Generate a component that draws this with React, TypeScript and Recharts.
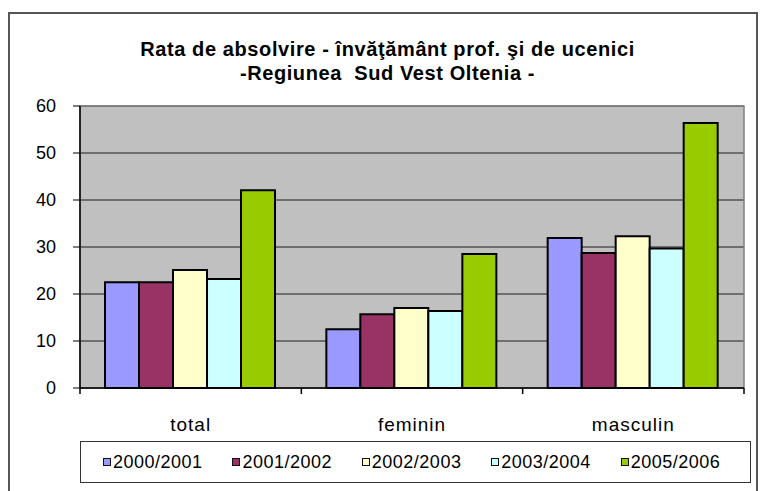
import React from 'react';
import { BarChart, Bar, XAxis, YAxis, CartesianGrid, Legend, ReferenceArea } from 'recharts';

const categories = ['total', 'feminin', 'masculin'];
const years = ['2000/2001', '2001/2002', '2002/2003', '2003/2004', '2005/2006'];
const colors = ['#9999FF', '#993366', '#FFFFCC', '#CCFFFF', '#99CC00'];

const v2000 = [22.5, 12.5, 31.9];
const v2001 = [22.5, 15.7, 28.7];
const v2002 = [25.1, 17.0, 32.3];
const v2003 = [23.2, 16.4, 29.7];
const v2005 = [42.1, 28.5, 56.4];

const yTicks = [0, 10, 20, 30, 40, 50, 60];

const seriesValues = [v2000, v2001, v2002, v2003, v2005];

const data = categories.map((name, i) => {
  const row: { [key: string]: string | number } = { name };
  years.forEach((y, s) => {
    row[y] = seriesValues[s][i];
  });
  return row;
});

const font = 'Arial, "Liberation Sans", sans-serif';
const X_TICK_SIZE = 6;
const X_TICK_MARGIN = 24;

// category label plus the Excel-style tick marks on the band boundaries
function CategoryTick(props: any) {
  const { x, y, payload, index } = props;
  const half = payload && payload.offset ? payload.offset : 110.5;
  const axisY = y - X_TICK_SIZE - X_TICK_MARGIN;
  const last = index === categories.length - 1;
  return (
    <g>
      <line x1={x - half} y1={axisY} x2={x - half} y2={axisY + X_TICK_SIZE} stroke="#000" strokeWidth={1.5} />
      {last && (
        <line x1={x + half} y1={axisY} x2={x + half} y2={axisY + X_TICK_SIZE} stroke="#000" strokeWidth={1.5} />
      )}
      <text
        x={x}
        y={y}
        dy="0.71em"
        textAnchor="middle"
        fill="#000"
        fontSize={19}
        fontFamily={font}
        letterSpacing={1}
      >
        {payload.value}
      </text>
    </g>
  );
}

function LegendBox() {
  return (
    <div
      style={{
        boxSizing: 'border-box',
        width: 671,
        height: 42,
        border: '1.5px solid #333',
        background: '#fff',
        display: 'flex',
        alignItems: 'center',
        paddingLeft: 22,
        fontFamily: font,
        fontSize: 18,
        letterSpacing: 0.5,
        color: '#000',
      }}
    >
      {years.map((y, i) => (
        <div key={y} style={{ display: 'flex', alignItems: 'center', width: 131 }}>
          <span
            style={{
              display: 'inline-block',
              width: 6,
              height: 6,
              background: colors[i],
              border: '1.5px solid #111',
              marginRight: 2,
            }}
          />
          <span>{y}</span>
        </div>
      ))}
    </div>
  );
}

export default function App() {
  return (
    <div style={{ position: 'absolute', left: 0, top: 0, width: 765, height: 491, background: '#fff', overflow: 'hidden' }}>
      {/* outer frame */}
      <div
        style={{
          position: 'absolute',
          left: 8,
          top: 12,
          width: 750,
          height: 500,
          border: '2px solid #555',
          boxSizing: 'border-box',
        }}
      />
      {/* title */}
      <div
        style={{
          position: 'absolute',
          left: 0,
          top: 37,
          width: 775,
          textAlign: 'center',
          fontFamily: font,
          fontWeight: 'bold',
          fontSize: 20,
          letterSpacing: 0.6,
          lineHeight: '24px',
          color: '#000',
        }}
      >
        <div>Rata de absolvire - învăţământ prof. şi de ucenici</div>
        <div>-Regiunea&nbsp; Sud Vest Oltenia -</div>
      </div>
      <div style={{ position: 'absolute', left: 0, top: 0 }}>
        <BarChart
          width={765}
          height={491}
          data={data}
          margin={{ top: 106, right: 21, bottom: 26, left: 0 }}
          barCategoryGap="11.3%"
          barGap={0}
        >
          <CartesianGrid vertical={false} fill="#C0C0C0" stroke="#000" strokeOpacity={0.85} />
          <ReferenceArea y1={0} y2={60} fill="none" stroke="#808080" strokeWidth={1.5} ifOverflow="visible" />
          <XAxis
            dataKey="name"
            tickLine={false}
            tickSize={X_TICK_SIZE}
            tickMargin={X_TICK_MARGIN}
            axisLine={{ stroke: '#000', strokeWidth: 1.5 }}
            tick={<CategoryTick />}
            height={35}
          />
          <YAxis
            domain={[0, 60]}
            ticks={yTicks}
            width={80}
            tickSize={7}
            tickMargin={17}
            axisLine={{ stroke: '#000', strokeWidth: 1.5 }}
            tickLine={{ stroke: '#000' }}
            tick={{ fill: '#000', fontSize: 18, fontFamily: font }}
          />
          <Legend
            verticalAlign="bottom"
            content={() => <LegendBox />}
            wrapperStyle={{ left: 80, top: 441, width: 671, height: 42 }}
          />
          {years.map((y, i) => (
            <Bar
              key={y}
              dataKey={y}
              fill={colors[i]}
              stroke="#000"
              strokeWidth={2}
              isAnimationActive={false}
            />
          ))}
        </BarChart>
      </div>
    </div>
  );
}
